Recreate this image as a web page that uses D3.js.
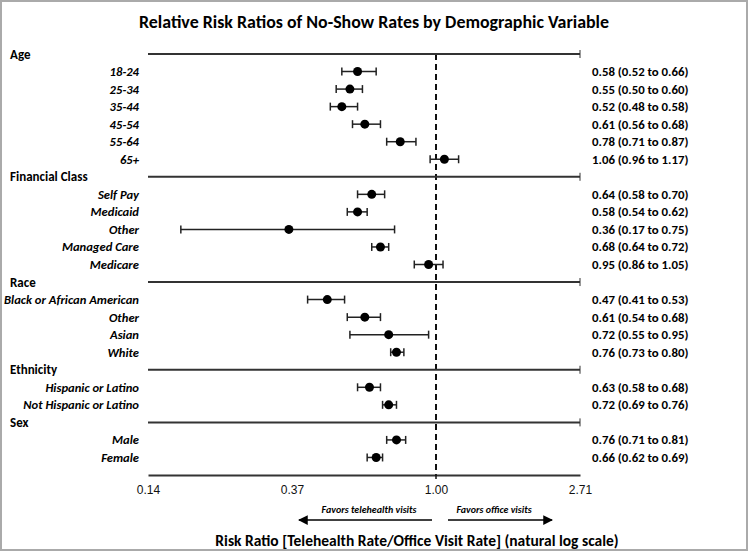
<!DOCTYPE html>
<meta charset="utf-8">
<style>
body { margin: 0; background: #fff; }
svg { font-family: Carlito, Lato, "Open Sans", sans-serif; }
.row-label { font-style: italic; font-weight: 700; font-size: 12.6px; }
.group-label { font-weight: 700; font-size: 13px; }
.est { font-weight: 700; font-size: 12.8px; }
.sep { stroke: #333; stroke-width: 2px; }
.ci { stroke: #222; stroke-width: 1.5px; }
.axis text { font-size: 12px; fill: #111; }
</style>
<svg width="749" height="552" id="chart1"></svg>
<script src="https://cdn.jsdelivr.net/npm/d3@7"></script>
<script>

// groups and their row labels
var groups = ["Age", "Financial Class", "Race", "Ethnicity", "Sex"];
var groupRows = [
  ["18-24", "25-34", "35-44", "45-54", "55-64", "65+"],
  ["Self Pay", "Medicaid", "Other", "Managed Care", "Medicare"],
  ["Black or African American", "Other", "Asian", "White"],
  ["Hispanic or Latino", "Not Hispanic or Latino"],
  ["Male", "Female"]
];

// risk ratios with 95% CI, same order as rows above
var rr    = [0.58, 0.55, 0.52, 0.61, 0.78, 1.06, 0.64, 0.58, 0.36, 0.68, 0.95, 0.47, 0.61, 0.72, 0.76, 0.63, 0.72, 0.76, 0.66];
var lower = [0.52, 0.50, 0.48, 0.56, 0.71, 0.96, 0.58, 0.54, 0.17, 0.64, 0.86, 0.41, 0.54, 0.55, 0.73, 0.58, 0.69, 0.71, 0.62];
var upper = [0.66, 0.60, 0.58, 0.68, 0.87, 1.17, 0.70, 0.62, 0.75, 0.72, 1.05, 0.53, 0.68, 0.95, 0.80, 0.68, 0.76, 0.81, 0.69];

var tickValues = [Math.exp(-2), Math.exp(-1), 1, Math.exp(1)];
var tickLabels = ["0.14", "0.37", "1.00", "2.71"];

var svg = d3.select("svg#chart1");

svg.append("rect")
    .attr("x", 1).attr("y", 1).attr("width", 746).attr("height", 549)
    .attr("fill", "#fff").attr("stroke", "#aaa").attr("stroke-width", 2);

// build the row list (headers + items)
var rows = [], k = 0;
groups.forEach(function(g, gi) {
  rows.push({type: "group", label: g});
  groupRows[gi].forEach(function(lab) {
    rows.push({type: "item", label: lab, rr: rr[k], lo: lower[k], hi: upper[k]});
    k++;
  });
});

var x = d3.scaleLog().base(Math.E).domain([Math.exp(-2), Math.exp(1)]).range([148, 580]);
var y = d3.scaleLinear().domain([0, rows.length]).range([54, 475]);

svg.append("text")
    .attr("x", 374).attr("y", 28)
    .attr("text-anchor", "middle")
    .style("font-weight", 700).style("font-size", "17.9px")
    .text("Relative Risk Ratios of No-Show Rates by Demographic Variable");

// reference line at 1
svg.append("line")
    .attr("x1", x(1)).attr("x2", x(1))
    .attr("y1", y(0)).attr("y2", y(rows.length))
    .attr("stroke", "#111").attr("stroke-width", 2)
    .attr("stroke-dasharray", "6,4");

var row = svg.selectAll(".row")
  .data(rows)
  .enter().append("g")
    .attr("class", "row")
    .attr("transform", function(d, i) { return "translate(0," + y(i) + ")"; });

var headers = row.filter(function(d) { return d.type === "group"; });
headers.append("text")
    .attr("class", "group-label")
    .attr("x", 10).attr("dy", "0.35em")
    .text(function(d) { return d.label; });
headers.append("line")
    .attr("class", "sep")
    .attr("x1", x.range()[0]).attr("x2", x.range()[1]);
headers.append("line")
    .attr("stroke", "#333").attr("stroke-width", 1)
    .attr("x1", x.range()[1]).attr("x2", x.range()[1])
    .attr("y1", -4).attr("y2", 4);

var items = row.filter(function(d) { return d.type === "item"; });
items.append("text")
    .attr("class", "row-label")
    .attr("x", 139).attr("dy", "0.35em")
    .attr("text-anchor", "end")
    .text(function(d) { return d.label; });
items.append("line")
    .attr("class", "ci")
    .attr("x1", function(d) { return x(d.lo); })
    .attr("x2", function(d) { return x(d.hi); });
items.selectAll(".cap")
  .data(function(d) { return [d.lo, d.hi]; })
  .enter().append("line")
    .attr("class", "ci")
    .attr("x1", function(v) { return x(v); })
    .attr("x2", function(v) { return x(v); })
    .attr("y1", -4).attr("y2", 4);
items.append("circle")
    .attr("cx", function(d) { return x(d.rr); })
    .attr("r", 4.5)
    .attr("fill", "#000");
items.append("text")
    .attr("class", "est")
    .attr("x", 592).attr("dy", "0.35em")
    .text(function(d) {
      return d.rr.toFixed(2) + " (" + d.lo.toFixed(2) + " to " + d.hi.toFixed(2) + ")";
    });

// bottom axis
var axis = svg.append("g")
    .attr("class", "axis")
    .attr("transform", "translate(0," + y(rows.length) + ")")
    .call(d3.axisBottom(x)
          .tickValues(tickValues)
          .tickSize(0)
          .tickPadding(10)
          .tickFormat(function(d, i) { return tickLabels[i]; }));
axis.select(".domain").attr("stroke", "#333").attr("stroke-width", 2);
axis.selectAll("text").style("font-family", "inherit");
axis.append("line")
    .attr("x1", x(1)).attr("x2", x(1)).attr("y1", 0).attr("y2", 4)
    .attr("stroke", "#111").attr("stroke-width", 1.5);

// direction arrows
svg.append("defs").append("marker")
    .attr("id", "arrow")
    .attr("viewBox", "0 0 10 10")
    .attr("refX", 9).attr("refY", 5)
    .attr("markerWidth", 6.5).attr("markerHeight", 6.5)
    .attr("orient", "auto")
  .append("path")
    .attr("d", "M0,0L10,5L0,10z")
    .attr("fill", "#000");

svg.append("line")
    .attr("x1", 432).attr("x2", 299).attr("y1", 520).attr("y2", 520)
    .attr("stroke", "#000").attr("stroke-width", 1.5)
    .attr("marker-end", "url(#arrow)");
svg.append("line")
    .attr("x1", 448).attr("x2", 552).attr("y1", 520).attr("y2", 520)
    .attr("stroke", "#000").attr("stroke-width", 1.5)
    .attr("marker-end", "url(#arrow)");

svg.append("text")
    .attr("x", 369).attr("y", 513)
    .attr("text-anchor", "middle")
    .style("font-style", "italic").style("font-weight", 700).style("font-size", "10px")
    .text("Favors telehealth visits");
svg.append("text")
    .attr("x", 494).attr("y", 513)
    .attr("text-anchor", "middle")
    .style("font-style", "italic").style("font-weight", 700).style("font-size", "10px")
    .text("Favors office visits");

svg.append("text")
    .attr("x", 417).attr("y", 546)
    .attr("text-anchor", "middle")
    .style("font-size", "15.5px").style("font-weight", 600)
    .text("Risk Ratio [Telehealth Rate/Office Visit Rate] (natural log scale)");

</script>
